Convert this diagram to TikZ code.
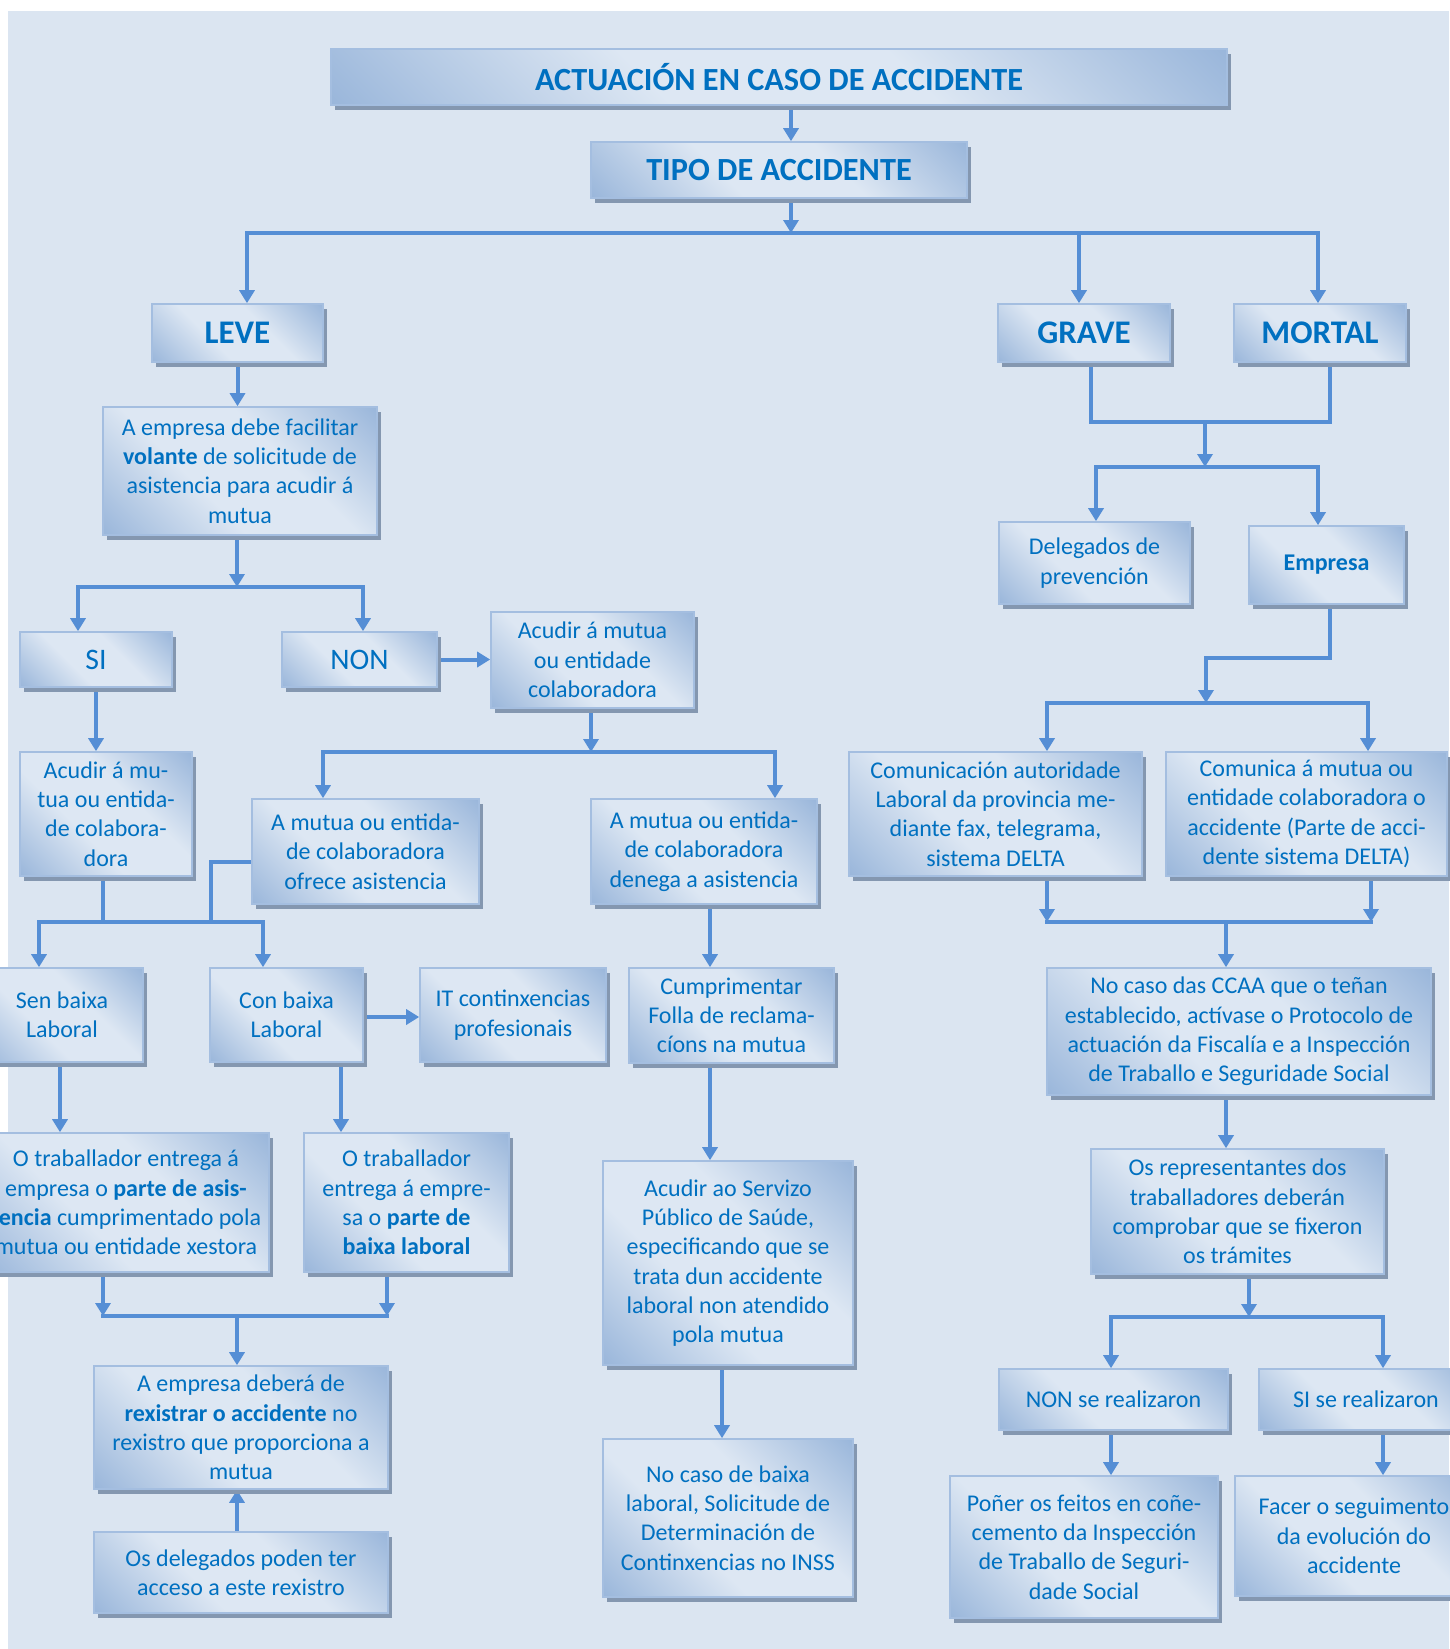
\documentclass[tikz,border=0pt]{standalone}
\usepackage{fontspec}
\setmainfont{Carlito}
\usetikzlibrary{arrows.meta,shadows}
\definecolor{bgc}{HTML}{DBE5F1}
\definecolor{boxdark}{HTML}{98B5DA}
\definecolor{boxlight}{HTML}{DDE7F3}
\definecolor{boxborder}{HTML}{A4BEE0}
\definecolor{shadowc}{HTML}{8497B0}
\definecolor{txt}{HTML}{0070C0}
\definecolor{conn}{HTML}{558ED5}
\pgfdeclareverticalshading{boxshade}{100bp}{color(0bp)=(boxdark); color(14bp)=(boxdark); color(40bp)=(boxlight); color(60bp)=(boxlight); color(86bp)=(boxdark); color(100bp)=(boxdark)}
\pgfdeclarelayer{back}
\pgfdeclarelayer{wires}
\pgfsetlayers{back,wires,main}
\begin{document}
\begin{tikzpicture}[x=1pt,y=-1pt,
 box/.style={rectangle, draw=boxborder, line width=1.6pt, shading=boxshade, shading angle=-45,
   drop shadow={shadow xshift=4pt, shadow yshift=-5pt, fill=shadowc, opacity=1},
   text=txt, align=center, inner sep=0pt, font=\fontsize{24}{29.3}\selectfont},
 sz/.style n args={2}{minimum width=#1pt, minimum height=#2pt},
 bigb/.style={font=\fontsize{32.3}{38}\selectfont\bfseries},
 typeb/.style={font=\fontsize{33}{38}\selectfont\bfseries},
 yesno/.style={font=\fontsize{29.8}{34}\selectfont},
 ln/.style={draw=conn, line width=4pt, line cap=rect},
 arr/.style={ln, -{Triangle[width=15pt,length=13pt]}},
]
\useasboundingbox (0,0) rectangle (1449,1649);
\begin{pgfonlayer}{back}
\fill[white] (0,0) rectangle (1449,1649);
\fill[bgc] (8,11) rectangle (1449,1649);
\end{pgfonlayer}

% ---- nodes ----
\node[box, bigb, sz={896}{56}] (title) at (779,77) {ACTUACIÓN EN CASO DE ACCIDENTE};
\node[box, bigb, sz={376}{56}] (tipo) at (779,170) {TIPO DE ACCIDENTE};
\node[box, typeb, sz={171}{58}] (leve) at (237.5,333) {LEVE};
\node[box, typeb, sz={172}{58}] (grave) at (1084,333) {GRAVE};
\node[box, typeb, sz={172}{58}] (mortal) at (1320,333) {MORTAL};

\node[box, sz={274}{128}] (facil) at (240,471) {A empresa debe facilitar\\ \textbf{volante} de solicitude de\\ asistencia para acudir á\\ mutua};
\node[box, yesno, sz={152}{55}] (si) at (96,659.5) {SI};
\node[box, yesno, sz={155}{55}] (non) at (359.5,659.5) {NON};
\node[box, sz={203}{96}] (acudir) at (592.5,660) {Acudir á mutua\\ ou entidade\\ colaboradora};
\node[box, sz={172}{124}] (acudirsi) at (106,814) {Acudir á mu-\\ tua ou entida-\\ de colabora-\\ dora};
\node[box, sz={227}{105}] (ofrece) at (365.5,851.5) {A mutua ou entida-\\ de colaboradora\\ ofrece asistencia};
\node[box, sz={226}{105}] (denega) at (704,851.5) {A mutua ou entida-\\ de colaboradora\\ denega a asistencia};
\node[box, sz={162}{94}] (sen) at (62,1015) {Sen baixa\\ Laboral};
\node[box, sz={153}{94}] (con) at (286.5,1015) {Con baixa\\ Laboral};
\node[box, sz={186}{94}] (it) at (513,1015) {IT continxencias\\ profesionais};
\node[box, sz={205}{95}] (cumpr) at (731.5,1015.5) {Cumprimentar\\ Folla de reclama-\\ cíons na mutua};
\node[box, sz={250}{204}] (servizo) at (728,1263) {Acudir ao Servizo\\ Público de Saúde,\\ especificando que se\\ trata dun accidente\\ laboral non atendido\\ pola mutua};
\node[box, sz={250}{158}] (ncbaixa) at (728,1518) {No caso de baixa\\ laboral, Solicitude de\\ Determinación de\\ Continxencias no INSS};
\node[box, sz={286}{139}] (trab1) at (126,1202.5) {O traballador entrega á\\ empresa o \textbf{parte de asis-}\\ \textbf{tencia} cumprimentado pola\\ mutua ou entidade xestora};
\node[box, sz={205}{139}] (trab2) at (406.5,1202.5) {O traballador\\ entrega á empre-\\ sa o \textbf{parte de}\\ \textbf{baixa laboral}};
\node[box, sz={294}{123}] (debera) at (241,1427.5) {A empresa deberá de\\ \textbf{rexistrar o accidente} no\\ rexistro que proporciona a\\ mutua};
\node[box, sz={294}{81}] (delegs) at (241,1572.5) {Os delegados poden ter\\ acceso a este rexistro};

\node[box, sz={191}{82}] (delegprev) at (1094.5,563) {Delegados de\\ prevención};
\node[box, sz={155}{78}] (empresa) at (1326.5,565) {\textbf{Empresa}};
\node[box, sz={293}{124}] (comunicacion) at (995.5,814) {Comunicación autoridade\\ Laboral da provincia me-\\ diante fax, telegrama,\\ sistema DELTA};
\node[box, sz={281}{124}] (comunica) at (1306.5,814) {Comunica á mutua ou\\ entidade colaboradora o\\ accidente (Parte de acci-\\ dente sistema DELTA)};
\node[box, sz={384}{127}] (ccaa) at (1239,1031.5) {No caso das CCAA que o teñan\\ establecido, actívase o Protocolo de\\ actuación da Fiscalía e a Inspección\\ de Traballo e Seguridade Social};
\node[box, sz={293}{125}] (repres) at (1237.5,1211.5) {Os representantes dos\\ traballadores deberán\\ comprobar que se fixeron\\ os trámites};
\node[box, sz={229}{61}] (nonse) at (1113.5,1399.5) {NON se realizaron};
\node[box, sz={214}{61}] (sise) at (1366,1399.5) {SI se realizaron};
\node[box, sz={268}{142}] (poner) at (1084,1547) {Poñer os feitos en coñe-\\ cemento da Inspección\\ de Traballo de Seguri-\\ dade Social};
\node[box, sz={238}{120}] (facer) at (1354,1536) {Facer o seguimento\\ da evolución do\\ accidente};

% ---- junction coordinates ----
\coordinate (j1) at (791,233);
\coordinate (j1a) at (247,233);
\coordinate (j1c) at (1079,233);
\coordinate (j1b) at (1318,233);
\coordinate (j2) at (237,587);
\coordinate (j2a) at (78,587);
\coordinate (j2b) at (363,587);
\coordinate (j3) at (591,752);
\coordinate (j3a) at (323,752);
\coordinate (j3b) at (775,752);
\coordinate (j4) at (103,922);
\coordinate (j4a) at (39,922);
\coordinate (j4c) at (211,922);
\coordinate (j4b) at (263,922);
\coordinate (vx1) at (710,0);
\coordinate (vx2) at (722,0);
\coordinate (vx3) at (60,0);
\coordinate (vx4) at (341,0);
\coordinate (j5a) at (103,1316);
\coordinate (j5) at (237,1316);
\coordinate (j5b) at (387,1316);
\coordinate (k1a) at (1091,422);
\coordinate (k1) at (1205,422);
\coordinate (k1b) at (1330,422);
\coordinate (k2) at (1205,467);
\coordinate (k2a) at (1096,467);
\coordinate (k2b) at (1318,467);
\coordinate (k3) at (1330,658);
\coordinate (k3b) at (1206,658);
\coordinate (k4) at (1206,703);
\coordinate (k4a) at (1047,703);
\coordinate (k4b) at (1368,703);
\coordinate (k5a) at (1047,922);
\coordinate (k5) at (1226,922);
\coordinate (k5b) at (1371,922);
\coordinate (k6) at (1249,1317);
\coordinate (k6a) at (1111,1317);
\coordinate (k6b) at (1383,1317);

% ---- connectors ----
\begin{pgfonlayer}{wires}
\draw[arr] (title.south -| j1) -- (tipo.north -| j1);
\draw[arr] (tipo.south -| j1) -- (j1);
\draw[ln] (j1a) -- (j1b);
\draw[arr] (j1a) -- (j1a |- leve.north);
\draw[arr] (j1c) -- (j1c |- grave.north);
\draw[arr] (j1b) -- (j1b |- mortal.north);

\draw[arr] (leve.south) -- (leve.south |- facil.north);
\draw[arr] (facil.south -| j2) -- (j2);
\draw[ln] (j2a) -- (j2b);
\draw[arr] (j2a) -- (j2a |- si.north);
\draw[arr] (j2b) -- (j2b |- non.north);
\draw[arr] (non.east) -- (non.east -| acudir.west);
\draw[arr] (acudir.south -| j3) -- (j3);
\draw[ln] (j3a) -- (j3b);
\draw[arr] (j3a) -- (j3a |- ofrece.north);
\draw[arr] (j3b) -- (j3b |- denega.north);
\draw[arr] (si.south) -- (si.south |- acudirsi.north);
\draw[ln] (acudirsi.south -| j4) -- (j4);
\draw[ln] ([yshift=-10pt]ofrece.west) -| (j4c);
\draw[ln] (j4a) -- (j4b);
\draw[arr] (j4a) -- (j4a |- sen.north);
\draw[arr] (j4b) -- (j4b |- con.north);
\draw[arr] ([yshift=-2pt]con.east) -- ([yshift=-2pt]con.east -| it.west);
\draw[arr] (denega.south -| vx1) -- (cumpr.north -| vx1);
\draw[arr] (cumpr.south -| vx1) -- (servizo.north -| vx1);
\draw[arr] (servizo.south -| vx2) -- (ncbaixa.north -| vx2);
\draw[arr] (sen.south -| vx3) -- (trab1.north -| vx3);
\draw[arr] (con.south -| vx4) -- (trab2.north -| vx4);
\draw[arr] (trab1.south -| j5a) -- (j5a);
\draw[arr] (trab2.south -| j5b) -- (j5b);
\draw[ln] (j5a) -- (j5b);
\draw[arr] (j5) -- (j5 |- debera.north);
\draw[arr] (delegs.north -| j5) -- (debera.south -| j5);

\draw[ln] (grave.south -| k1a) -- (k1a) -- (k1b) -- (mortal.south -| k1b);
\draw[arr] (k1) -- (k2);
\draw[ln] (k2a) -- (k2b);
\draw[arr] (k2a) -- (k2a |- delegprev.north);
\draw[arr] (k2b) -- (k2b |- empresa.north);
\draw[ln] (empresa.south -| k3) -- (k3) -- (k3b);
\draw[arr] (k3b) -- (k4);
\draw[ln] (k4a) -- (k4b);
\draw[arr] (k4a) -- (k4a |- comunicacion.north);
\draw[arr] (k4b) -- (k4b |- comunica.north);
\draw[arr] (comunicacion.south -| k5a) -- (k5a);
\draw[arr] (comunica.south -| k5b) -- (k5b);
\draw[ln] (k5a) -- (k5b);
\draw[arr] (k5) -- (k5 |- ccaa.north);
\draw[arr] (ccaa.south -| k5) -- (repres.north -| k5);
\draw[arr] (repres.south -| k6) -- (k6);
\draw[ln] (k6a) -- (k6b);
\draw[arr] (k6a) -- (k6a |- nonse.north);
\draw[arr] (k6b) -- (k6b |- sise.north);
\draw[arr] (nonse.south -| k6a) -- (poner.north -| k6a);
\draw[arr] (sise.south -| k6b) -- (facer.north -| k6b);
\end{pgfonlayer}
\end{tikzpicture}
\end{document}
